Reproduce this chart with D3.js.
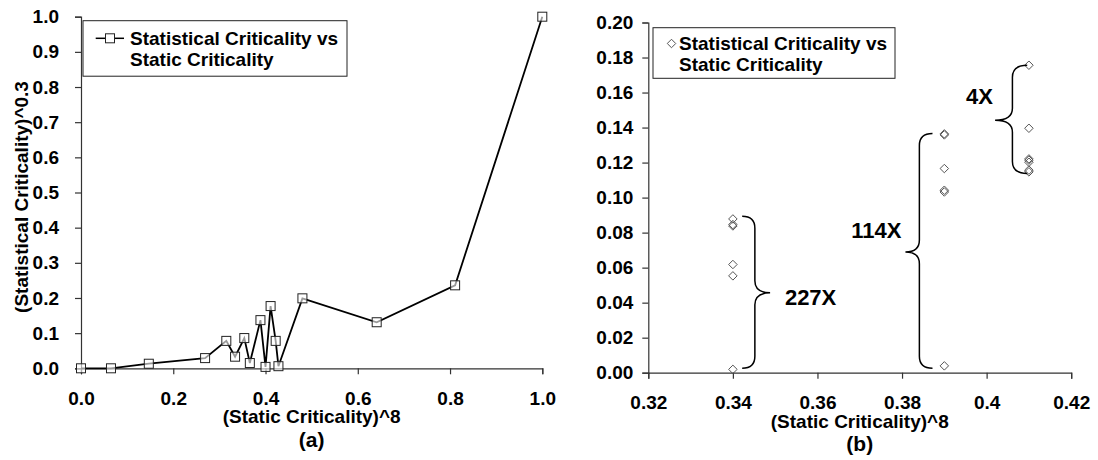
<!DOCTYPE html>
<html>
<head>
<meta charset="utf-8">
<script src="https://cdn.jsdelivr.net/npm/d3@7"></script>
<style>
  body { margin: 0; background: #fff; }
  svg { display: block; font-family: Arial, "Liberation Sans", sans-serif; font-weight: bold; }
  .axis path, .axis line { stroke: #333; stroke-width: 1.2; }
  .axis text { font-size: 19px; font-weight: bold; fill: #000; font-family: Arial, "Liberation Sans", sans-serif; }
</style>
</head>
<body>
<svg id="chart" width="1098" height="460"></svg>
<script>
const width = 1098, height = 460;

// (a) statistical vs static criticality, line + squares
const staticA = [0.0, 0.065, 0.147, 0.269, 0.315, 0.334, 0.354, 0.366, 0.389, 0.400, 0.411, 0.422, 0.428, 0.480, 0.641, 0.811, 1.0];
const statA   = [0.0, 0.0, 0.013, 0.029, 0.078, 0.033, 0.086, 0.015, 0.137, 0.004, 0.177, 0.078, 0.006, 0.199, 0.131, 0.236, 1.0];

// (b) scatter of three static-criticality groups
const staticB = [0.34, 0.34, 0.34, 0.34, 0.34, 0.34,
                 0.39, 0.39, 0.39, 0.39, 0.39, 0.39,
                 0.41, 0.41, 0.41, 0.41, 0.41, 0.41, 0.41];
const statB   = [0.0878, 0.0846, 0.0838, 0.0618, 0.0553, 0.0019,
                 0.1364, 0.1358, 0.1166, 0.1042, 0.1032, 0.0039,
                 0.1756, 0.1396, 0.1221, 0.1214, 0.1202, 0.1157, 0.1147];

// braces: x of curl ends, x of vertical stroke, x of point, y top/bottom/point
const braceLabels = ["227X", "114X", "4X"];
const braceTipX   = [0.3422, 0.3872, 0.4096];
const braceLineX  = [0.3452, 0.3841, 0.4061];
const braceMidX   = [0.3488, 0.3808, 0.4020];
const braceTop    = [0.0894, 0.1366, 0.1756];
const braceBot    = [0.0025, 0.0025, 0.1138];
const braceMid    = [0.0456, 0.0690, 0.1442];
const labelX      = [0.3523, 0.3680, 0.3951];
const labelY      = [0.0384, 0.0769, 0.1533];

const ticksAX = [0, 0.2, 0.4, 0.6, 0.8, 1.0];
const ticksAY = [0, 0.1, 0.2, 0.3, 0.4, 0.5, 0.6, 0.7, 0.8, 0.9, 1.0];
const ticksBX = [0.32, 0.34, 0.36, 0.38, 0.40, 0.42];
const ticksBXLabels = ["0.32", "0.34", "0.36", "0.38", "0.4", "0.42"];
const ticksBY = [0, 0.02, 0.04, 0.06, 0.08, 0.10, 0.12, 0.14, 0.16, 0.18, 0.20];

const legendText = ["Statistical Criticality vs", "Static Criticality"];
const xTitle = "(Static Criticality)^8";
const yTitle = "(Statistical Criticality)^0.3";

const svg = d3.select("#chart");

// ---------- panel (a) ----------
const xa = d3.scaleLinear().domain([0, 1]).range([81, 542.3]);
const ya = d3.scaleLinear().domain([0, 1]).range([368.3, 16.7]);

svg.append("g").attr("class", "axis")
    .attr("transform", `translate(0,${ya(0)})`)
    .call(d3.axisBottom(xa).tickValues(ticksAX).tickFormat(d3.format(".1f")).tickSize(6).tickPadding(17.5));

svg.append("g").attr("class", "axis")
    .attr("transform", `translate(${xa(0)},0)`)
    .call(d3.axisLeft(ya).tickValues(ticksAY).tickFormat(d3.format(".1f")).tickSize(6).tickPadding(16));

svg.append("path")
    .datum(d3.range(staticA.length))
    .attr("fill", "none").attr("stroke", "#000").attr("stroke-width", 1.8)
    .attr("d", d3.line().x(i => xa(staticA[i])).y(i => ya(statA[i])));

svg.append("g").selectAll("rect")
    .data(d3.range(staticA.length))
    .join("rect")
    .attr("x", i => xa(staticA[i]) - 4.5).attr("y", i => ya(statA[i]) - 4.5)
    .attr("width", 9).attr("height", 9)
    .attr("fill", "#fff").attr("fill-opacity", 0.6).attr("stroke", "#222").attr("stroke-width", 1);

// legend (a)
const legA = svg.append("g");
legA.append("rect").attr("x", 83).attr("y", 20.7).attr("width", 264).attr("height", 55.5)
    .attr("fill", "#fff").attr("stroke", "#222").attr("stroke-width", 1);
legA.append("line").attr("x1", 95.7).attr("x2", 124).attr("y1", 38.3).attr("y2", 38.3)
    .attr("stroke", "#000").attr("stroke-width", 1.5);
legA.append("rect").attr("x", 105.5).attr("y", 33.8).attr("width", 9).attr("height", 9)
    .attr("fill", "#fff").attr("stroke", "#222");
legA.selectAll("text").data(legendText).join("text")
    .attr("x", 130).attr("y", (d, i) => 45 + i * 20.5)
    .attr("font-size", 19).text(d => d);

svg.append("text").attr("x", (xa(0) + xa(1)) / 2).attr("y", 422.5)
    .attr("text-anchor", "middle").attr("font-size", 19).text(xTitle);
svg.append("text").attr("x", (xa(0) + xa(1)) / 2).attr("y", 447)
    .attr("text-anchor", "middle").attr("font-size", 21).text("(a)");
svg.append("text").attr("transform", "translate(28,197) rotate(-90)")
    .attr("text-anchor", "middle").attr("font-size", 19).text(yTitle);

// ---------- panel (b) ----------
const xb = d3.scaleLinear().domain([0.32, 0.42]).range([648.3, 1071.2]);
const yb = d3.scaleLinear().domain([0, 0.2]).range([372.7, 22.5]);

svg.append("g").attr("class", "axis")
    .attr("transform", `translate(0,${yb(0)})`)
    .call(d3.axisBottom(xb).tickValues(ticksBX).tickFormat((d, i) => ticksBXLabels[i]).tickSize(6).tickPadding(17));

svg.append("g").attr("class", "axis")
    .attr("transform", `translate(${xb(0.32)},0)`)
    .call(d3.axisLeft(yb).tickValues(ticksBY).tickFormat(d3.format(".2f")).tickSize(6).tickPadding(9));

const diamond = d3.symbol().type(d3.symbolDiamond2).size(46);
svg.append("g").selectAll("path")
    .data(d3.range(staticB.length))
    .join("path")
    .attr("transform", i => `translate(${xb(staticB[i])},${yb(statB[i])})`)
    .attr("d", diamond)
    .attr("fill", "none").attr("stroke", "#555").attr("stroke-width", 1);

// braces
function bracePath(i) {
    const tx = xb(braceTipX[i]), lx = xb(braceLineX[i]), mx = xb(braceMidX[i]);
    const t = yb(braceTop[i]), b = yb(braceBot[i]), m = yb(braceMid[i]);
    const r = 12;
    return `M${tx},${t} Q${lx},${t} ${lx},${t + r} L${lx},${m - r} Q${lx},${m} ${mx},${m}` +
           ` Q${lx},${m} ${lx},${m + r} L${lx},${b - r} Q${lx},${b} ${tx},${b}`;
}
svg.append("g").selectAll("path")
    .data(d3.range(braceLabels.length))
    .join("path")
    .attr("d", bracePath)
    .attr("fill", "none").attr("stroke", "#000").attr("stroke-width", 1.5);

svg.append("g").selectAll("text")
    .data(d3.range(braceLabels.length))
    .join("text")
    .attr("x", i => xb(labelX[i])).attr("y", i => yb(labelY[i]))
    .attr("font-size", 22).text(i => braceLabels[i]);

// legend (b)
const legB = svg.append("g");
legB.append("rect").attr("x", 653).attr("y", 27.7).attr("width", 242).attr("height", 50.6)
    .attr("fill", "#fff").attr("stroke", "#222").attr("stroke-width", 1);
legB.append("path").attr("transform", "translate(671.5,43.5)").attr("d", diamond)
    .attr("fill", "none").attr("stroke", "#555");
legB.selectAll("text").data(legendText).join("text")
    .attr("x", 679).attr("y", (d, i) => 50 + i * 20.5)
    .attr("font-size", 19).text(d => d);

svg.append("text").attr("x", (xb(0.32) + xb(0.42)) / 2).attr("y", 427.5)
    .attr("text-anchor", "middle").attr("font-size", 19).text(xTitle);
svg.append("text").attr("x", (xb(0.32) + xb(0.42)) / 2).attr("y", 451)
    .attr("text-anchor", "middle").attr("font-size", 21).text("(b)");

svg.append("clipPath").attr("id", "clipYb")
    .append("rect").attr("x", 550).attr("y", 83).attr("width", 60).attr("height", 300);
svg.append("text").attr("clip-path", "url(#clipYb)")
    .attr("transform", "translate(579,196) rotate(-90)")
    .attr("text-anchor", "middle").attr("font-size", 19).text(yTitle);
</script>
</body>
</html>
